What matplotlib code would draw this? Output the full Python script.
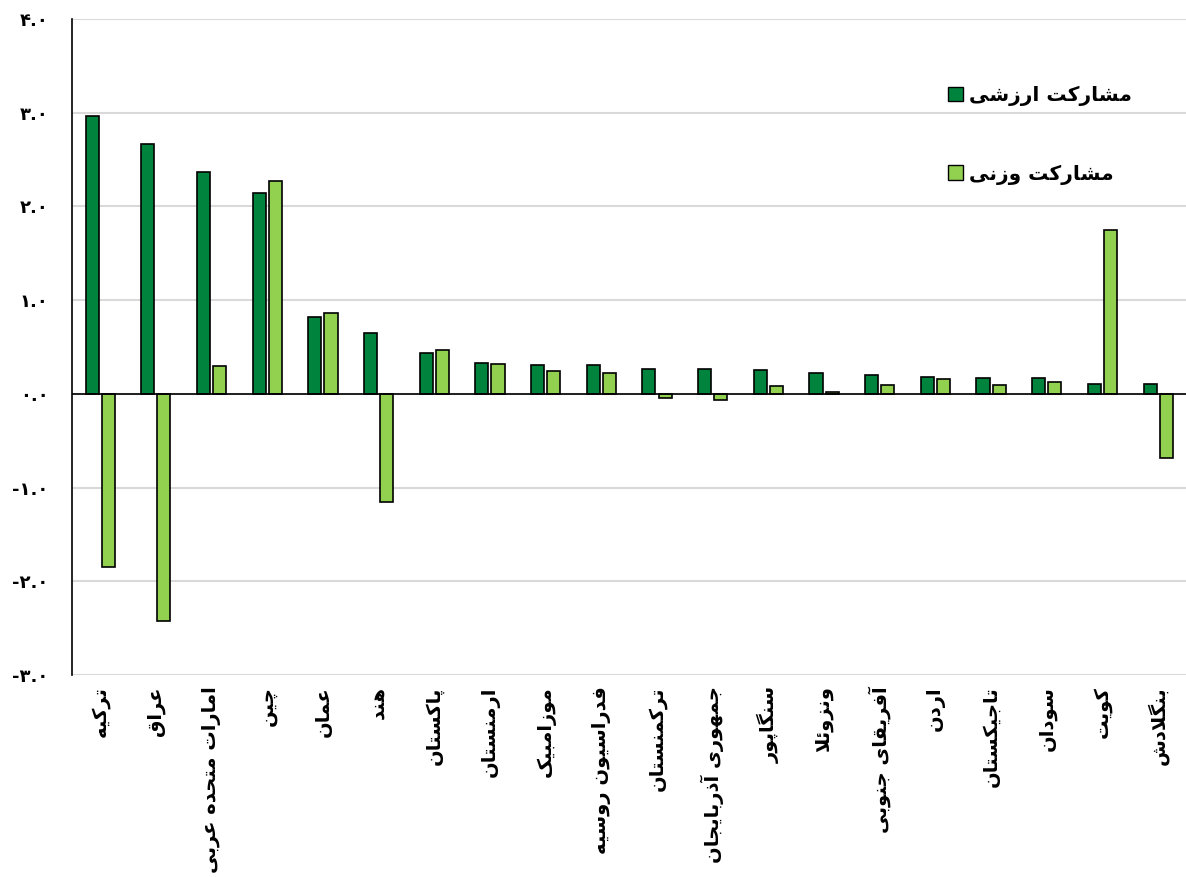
import numpy as np
import matplotlib
matplotlib.use("Agg")
import matplotlib.pyplot as plt
from matplotlib.patches import Patch

countries = ['ترکیه', 'عراق', 'امارات متحده عربی', 'چین', 'عمان', 'هند',
             'پاکستان', 'ارمنستان', 'موزامبیک', 'فدراسیون روسیه', 'ترکمنستان',
             'جمهوری آذربایجان', 'سنگاپور', 'ونزوئلا', 'آفریقای جنوبی', 'اردن',
             'تاجیکستان', 'سودان', 'کویت', 'بنگلادش']
value_share = [2.97, 2.67, 2.37, 2.14, 0.82, 0.65, 0.44, 0.33, 0.31, 0.31,
               0.27, 0.27, 0.25, 0.22, 0.20, 0.18, 0.17, 0.17, 0.11, 0.11]
weight_share = [-1.85, -2.42, 0.30, 2.27, 0.86, -1.15, 0.47, 0.32, 0.24, 0.22,
                -0.04, -0.06, 0.08, 0.02, 0.10, 0.16, 0.10, 0.13, 1.75, -0.68]
legend_labels = ['مشارکت ارزشی', 'مشارکت وزنی']
yticks = [-3, -2, -1, 0, 1, 2, 3, 4]

# simple arabic/persian shaping (matplotlib has no shaping / RTL)
dual = {'ب': 0xFE8F, 'ت': 0xFE95, 'ث': 0xFE99, 'ج': 0xFE9D, 'ح': 0xFEA1,
        'خ': 0xFEA5, 'س': 0xFEB1, 'ش': 0xFEB5, 'ص': 0xFEB9, 'ض': 0xFEBD,
        'ط': 0xFEC1, 'ظ': 0xFEC5, 'ع': 0xFEC9, 'غ': 0xFECD, 'ف': 0xFED1,
        'ق': 0xFED5, 'ل': 0xFEDD, 'م': 0xFEE1, 'ن': 0xFEE5, 'ه': 0xFEE9,
        'ئ': 0xFE89, 'ی': 0xFBFC, 'پ': 0xFB56, 'چ': 0xFB7A, 'ک': 0xFB8E,
        'گ': 0xFB92}
right = {'ا': 0xFE8D, 'آ': 0xFE81, 'د': 0xFEA9, 'ذ': 0xFEAB, 'ر': 0xFEAD,
         'ز': 0xFEAF, 'ژ': 0xFB8A, 'و': 0xFEED}


def shape(text):
    out = []
    i = 0
    n = len(text)
    while i < n:
        c = text[i]
        prev = text[i - 1] if i > 0 else ''
        nxt = text[i + 1] if i + 1 < n else ''
        jp = prev in dual
        if c == 'ل' and nxt == 'ا':
            out.append(chr(0xFEFC if jp else 0xFEFB))
            i += 2
            continue
        if c in dual:
            jn = nxt in dual or nxt in right
            base = dual[c]
            if jp and jn:
                out.append(chr(base + 3))
            elif jp:
                out.append(chr(base + 1))
            elif jn:
                out.append(chr(base + 2))
            else:
                out.append(chr(base))
        elif c in right:
            out.append(chr(right[c] + (1 if jp else 0)))
        else:
            out.append(c)
        i += 1
    return ''.join(reversed(out))


def fa_num(v):
    s = '%.1f' % v
    return s.translate(str.maketrans('0123456789', '۰۱۲۳۴۵۶۷۸۹'))


plt.rcParams['font.family'] = ['DejaVu Sans']

fig = plt.figure(figsize=(11.86, 8.77), dpi=100)
ax = fig.add_axes([0.061, 0.2303, 0.939, 0.748])

x = np.arange(len(countries))
w = 0.235
dark = '#00843d'
light = '#92d050'
ax.bar(x - 0.145, value_share, w, color=dark, edgecolor='black', linewidth=1.2, zorder=3)
ax.bar(x + 0.145, weight_share, w, color=light, edgecolor='black', linewidth=1.2, zorder=3)

ax.set_xlim(-0.5, len(countries) - 0.5)
ax.set_ylim(-3, 4)
ax.set_yticks(yticks)
ax.set_yticklabels([fa_num(v) for v in yticks], fontweight='bold', fontsize=13)
ax.yaxis.grid(True, color='#d9d9d9', linewidth=1.5, zorder=0)
ax.axhline(0, color='black', linewidth=1.2, zorder=4)
ax.set_xticks(x)
ax.set_xticklabels([shape(c) for c in countries], rotation=90, fontweight='bold',
                   fontsize=14, va='top', ha='center')
ax.tick_params(axis='both', length=0)
ax.tick_params(axis='x', pad=8)
ax.tick_params(axis='y', pad=17)
for s in ['top', 'right', 'bottom']:
    ax.spines[s].set_visible(False)
ax.spines['left'].set_linewidth(1.2)

handles = [Patch(facecolor=dark, edgecolor='black'), Patch(facecolor=light, edgecolor='black')]
ax.legend(handles, [shape(t) for t in legend_labels], loc='upper left',
          bbox_to_anchor=(0.77, 0.926), frameon=False, handlelength=0.75, handleheight=0.75,
          handletextpad=0.3, labelspacing=2.9, prop={'weight': 'bold', 'size': 14.5})

fig.savefig('out.png', dpi=100)
